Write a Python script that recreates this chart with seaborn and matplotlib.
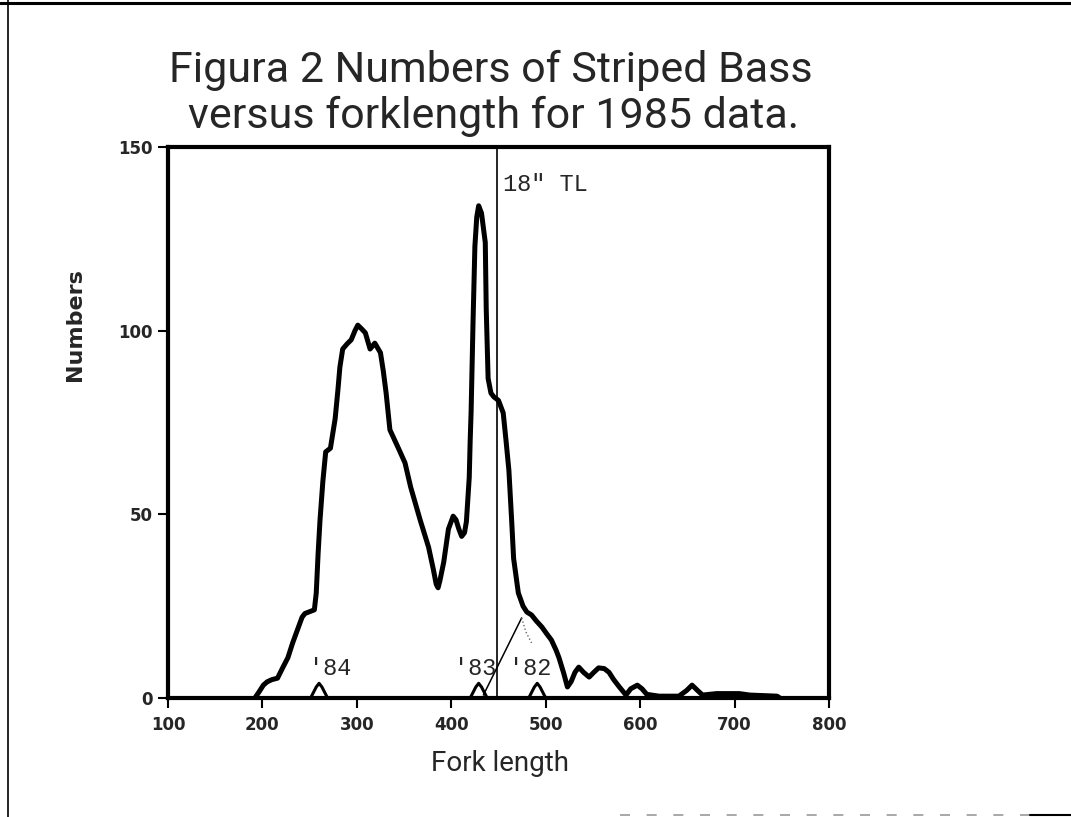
import matplotlib
matplotlib.use("Agg")
import matplotlib.pyplot as plt
from matplotlib.lines import Line2D
import pandas as pd
import seaborn as sns

# numbers of fish per fork length (mm)
fork_length = [192, 196, 201, 205, 210, 216, 221, 227, 232, 237, 242, 245, 250, 255,
               257, 259, 261, 264, 267, 272, 277, 280, 282, 285, 290, 294, 298, 301,
               305, 309, 314, 319, 325, 328, 331, 335, 344, 351, 357, 367, 376, 381,
               384, 386, 388, 392, 397, 402, 405, 408, 411, 414, 416, 419, 420, 421,
               423, 425, 427, 429, 432, 434, 436, 437, 439, 442, 445, 450, 455, 458,
               461, 464, 466, 471, 476, 480, 485, 490, 496, 501, 506, 511, 514, 519,
               523, 527, 531, 535, 540, 546, 551, 556, 562, 567, 572, 578, 585, 590,
               597, 602, 607, 620, 641, 649, 655, 661, 666, 681, 705, 716, 745, 748]
numbers = [0, 1.5, 3.5, 4.4, 5, 5.4, 8, 11, 15, 18.5, 22, 23, 23.5, 24,
           28.6, 39.5, 48.5, 59, 67, 68, 76, 84, 90, 95, 96.5, 97.5, 100, 101.5,
           100.5, 99.4, 95, 96.6, 94, 89, 83, 73, 68, 64, 57.4, 48.5, 41, 35,
           31, 30, 32, 37, 46, 49.5, 48.5, 46, 44, 45, 48, 60, 70, 78,
           102, 123, 131, 134, 132, 128, 124, 106, 87, 83, 82, 81, 77.6, 70,
           62, 48, 38, 28.6, 25, 23.4, 22.6, 21, 19.3, 17.5, 15.8, 13, 11, 6.8,
           3, 4.5, 7, 8.4, 7, 5.7, 7, 8.2, 8, 7, 5, 3, 0.8, 2.5,
           3.5, 2.5, 1, 0.5, 0.5, 2, 3.5, 2, 0.8, 1.2, 1.2, 0.8, 0.5, 0]

# year-class markers
year_labels = ["'84", "'83", "'82"]
year_modes = [260, 429, 491]
marker_height = 4

# thin '82 year-class outline
class82_x = [434, 474.5]
class82_y = [0.8, 21.8]
class82_tail_x = [474.5, 479, 485]
class82_tail_y = [21.8, 18, 15]

legal_size = 448   # 18" total length

df = pd.DataFrame({"fork_length": fork_length, "numbers": numbers})

sns.set_style("ticks")
title_font = "Roboto"
mono_font = "Liberation Mono"

fig = plt.figure(figsize=(10.71, 8.17), dpi=100)
ax = fig.add_axes([168 / 1071, 1 - 698 / 817, (829 - 168) / 1071, (698 - 147) / 817])

sns.lineplot(data=df, x="fork_length", y="numbers", ax=ax, color="black",
             linewidth=3.6, solid_joinstyle="round", solid_capstyle="round")

for m in year_modes:
    sns.lineplot(x=[m - 9, m - 3, m, m + 3, m + 9], y=[0, 3, marker_height, 3, 0],
                 ax=ax, color="black", linewidth=2.2, sort=False)

sns.lineplot(x=class82_x, y=class82_y, ax=ax, color="black", linewidth=1.1)
sns.lineplot(x=class82_tail_x, y=class82_tail_y, ax=ax, color="#666666",
             linewidth=1.0, linestyle=":")

ax.axvline(legal_size, color="black", linewidth=1.2)

ax.text(455, 138, '18" TL', family=mono_font, fontsize=17, va="baseline", ha="left")
for lab, xpos in zip(year_labels, [272, 425, 484]):
    ax.text(xpos, 6.3, lab, family=mono_font, fontsize=17, va="baseline", ha="center")

ax.set_xlim(100, 800)
ax.set_ylim(0, 150)
ax.set_xticks(range(100, 801, 100))
ax.set_yticks([0, 50, 100, 150])
ax.set_xlabel("")
ax.set_ylabel("")
for s in ax.spines.values():
    s.set_visible(True)
    s.set_linewidth(3)
    s.set_color("black")
ax.tick_params(axis="both", direction="out", length=7, width=1.5, color="black")
ax.tick_params(axis="x", pad=6)
ax.tick_params(axis="y", pad=4)
for t in ax.get_xticklabels() + ax.get_yticklabels():
    t.set_fontfamily("DejaVu Sans")
    t.set_fontweight("bold")
    t.set_fontsize(12)

fig.text(491 / 1071, 1 - 82 / 817, "Figura 2 Numbers of Striped Bass",
         family=title_font, fontsize=31, ha="center", va="baseline")
fig.text(494 / 1071, 1 - 128 / 817, "versus forklength for 1985 data.",
         family=title_font, fontsize=31, ha="center", va="baseline")
fig.text(500 / 1071, 1 - 771 / 817, "Fork length", family=title_font,
         fontsize=20, ha="center", va="baseline")
fig.text(75 / 1071, 1 - 325 / 817, "Numbers", family="DejaVu Sans", fontweight="bold",
         fontsize=16, rotation=90, ha="center", va="center")

# edges of the scanned page
fig.add_artist(Line2D([0, 1], [1 - 3 / 817] * 2, color="black", linewidth=2.2))
fig.add_artist(Line2D([8 / 1071] * 2, [0, 1], color="black", linewidth=1.2))
fig.add_artist(Line2D([620 / 1071, 1030 / 1071], [2 / 817] * 2, color="#999999",
                      linewidth=1.2, linestyle=(0, (6, 10))))
fig.add_artist(Line2D([1030 / 1071, 1], [2 / 817] * 2, color="black", linewidth=1.5))

fig.savefig("out.png", dpi=100)
